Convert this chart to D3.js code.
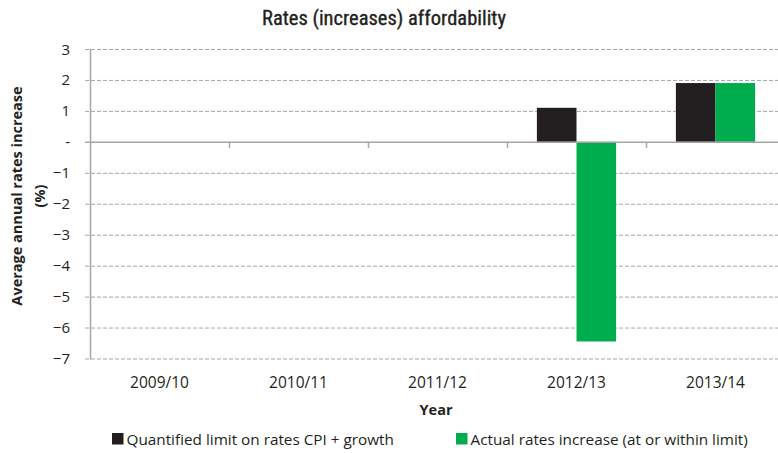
<!DOCTYPE html>
<html>
<head>
<meta charset="utf-8">
<script src="https://cdn.jsdelivr.net/npm/d3@7"></script>
<style>
  html, body { margin: 0; padding: 0; background: #fff; }
  svg { display: block; }
</style>
</head>
<body>
<svg id="chart" width="778" height="453"></svg>
<script>
// Financial years on the x axis
const years = ["2009/10", "2010/11", "2011/12", "2012/13", "2013/14"];
// Quantified limit on rates (CPI + growth), %
const limitValues = [null, null, null, 1.1, 1.9];
// Actual average annual rates increase, %
const actualValues = [null, null, null, -6.45, 1.9];
// Y axis ticks
const yTicks = [3, 2, 1, 0, -1, -2, -3, -4, -5, -6, -7];

const seriesNames = ["Quantified limit on rates CPI + growth", "Actual rates increase (at or within limit)"];
const seriesColors = ["#231f20", "#00ad4e"];

const svg = d3.select("#chart");
const plotLeft = 90, plotRight = 785, plotTop = 49, plotBottom = 358.5;
const gridColor = "#a6a6a6";
const labelFont = "'Open Sans', 'Noto Sans', sans-serif";
const textColor = "#231f20";

const x = d3.scaleBand().domain(years).range([plotLeft, plotRight]).paddingInner(0).paddingOuter(0);
const groupWidth = x.bandwidth() * 0.57;
const xs = d3.scaleBand().domain([0, 1]).range([0, groupWidth]);
const y = d3.scaleLinear().domain([-7, 3]).range([plotBottom, plotTop]);

// Title
svg.append("text")
  .attr("x", 384).attr("y", 25)
  .attr("text-anchor", "middle")
  .attr("font-family", "'Liberation Sans Narrow', 'Roboto Condensed', 'Liberation Sans', sans-serif")
  .attr("font-size", 20.5)
  .attr("fill", textColor)
  .attr("stroke", textColor).attr("stroke-width", 0.35)
  .text("Rates (increases) affordability");

// Horizontal dashed gridlines (except zero)
svg.append("g").selectAll("line")
  .data(yTicks.filter(d => d !== 0))
  .join("line")
  .attr("x1", plotLeft - 5).attr("x2", 778)
  .attr("y1", d => y(d) + 0.5).attr("y2", d => y(d) + 0.5)
  .attr("stroke", gridColor).attr("stroke-width", 1)
  .attr("stroke-dasharray", "4,2");

// Y axis tick labels
svg.append("g").selectAll("text")
  .data(yTicks)
  .join("text")
  .attr("x", 70).attr("y", d => y(d) + 5.5)
  .attr("text-anchor", "end")
  .attr("font-family", labelFont)
  .attr("font-size", 15)
  .attr("fill", textColor)
  .text(d => d === 0 ? "-" : d3.format("d")(d));

// Bars
const barData = [];
years.forEach((yr, i) => {
  [limitValues[i], actualValues[i]].forEach((v, s) => {
    if (v !== null) barData.push({ year: yr, s, v });
  });
});
svg.append("g").selectAll("rect")
  .data(barData)
  .join("rect")
  .attr("x", d => x(d.year) + (x.bandwidth() - groupWidth) / 2 + xs(d.s))
  .attr("width", xs.bandwidth())
  .attr("y", d => y(Math.max(0, d.v)))
  .attr("height", d => Math.abs(y(d.v) - y(0)))
  .attr("fill", d => seriesColors[d.s]);

// Y axis line
svg.append("line")
  .attr("x1", plotLeft + 0.5).attr("x2", plotLeft + 0.5)
  .attr("y1", plotTop).attr("y2", plotBottom + 1)
  .attr("stroke", gridColor).attr("stroke-width", 1.5);

// Zero line with category ticks
svg.append("line")
  .attr("x1", plotLeft - 5).attr("x2", 778)
  .attr("y1", y(0) + 0.5).attr("y2", y(0) + 0.5)
  .attr("stroke", gridColor).attr("stroke-width", 1.5);
svg.append("g").selectAll("line")
  .data(years.slice(1))
  .join("line")
  .attr("x1", d => x(d) + 0.5).attr("x2", d => x(d) + 0.5)
  .attr("y1", y(0)).attr("y2", y(0) + 6)
  .attr("stroke", gridColor).attr("stroke-width", 1.5);

// X category labels
svg.append("g").selectAll("text")
  .data(years)
  .join("text")
  .attr("x", d => x(d) + x.bandwidth() / 2)
  .attr("y", 388)
  .attr("text-anchor", "middle")
  .attr("font-family", labelFont)
  .attr("font-size", 15.5)
  .attr("fill", textColor)
  .text(d => d);

// Axis titles
svg.append("text")
  .attr("x", 436).attr("y", 415)
  .attr("text-anchor", "middle")
  .attr("font-family", labelFont)
  .attr("font-weight", "bold")
  .attr("font-size", 14.5)
  .attr("fill", textColor)
  .text("Year");

const yTitle = svg.append("text")
  .attr("transform", "translate(0,196) rotate(-90)")
  .attr("text-anchor", "middle")
  .attr("font-family", labelFont)
  .attr("font-weight", "bold")
  .attr("font-size", 14.5)
  .attr("fill", textColor);
yTitle.append("tspan").attr("x", 0).attr("y", 22).text("Average annual rates increase");
yTitle.append("tspan").attr("x", 0).attr("y", 45).text("(%)");

// Legend
const legendX = [112, 456];
const legend = svg.append("g").selectAll("g")
  .data(seriesNames)
  .join("g")
  .attr("transform", (d, i) => `translate(${legendX[i]},433)`);
legend.append("rect")
  .attr("width", 11.5).attr("height", 11.5)
  .attr("fill", (d, i) => seriesColors[i]);
legend.append("text")
  .attr("x", 14.5).attr("y", 11.5)
  .attr("font-family", labelFont)
  .attr("font-size", 15.3)
  .attr("fill", textColor)
  .text(d => d);
</script>
</body>
</html>
